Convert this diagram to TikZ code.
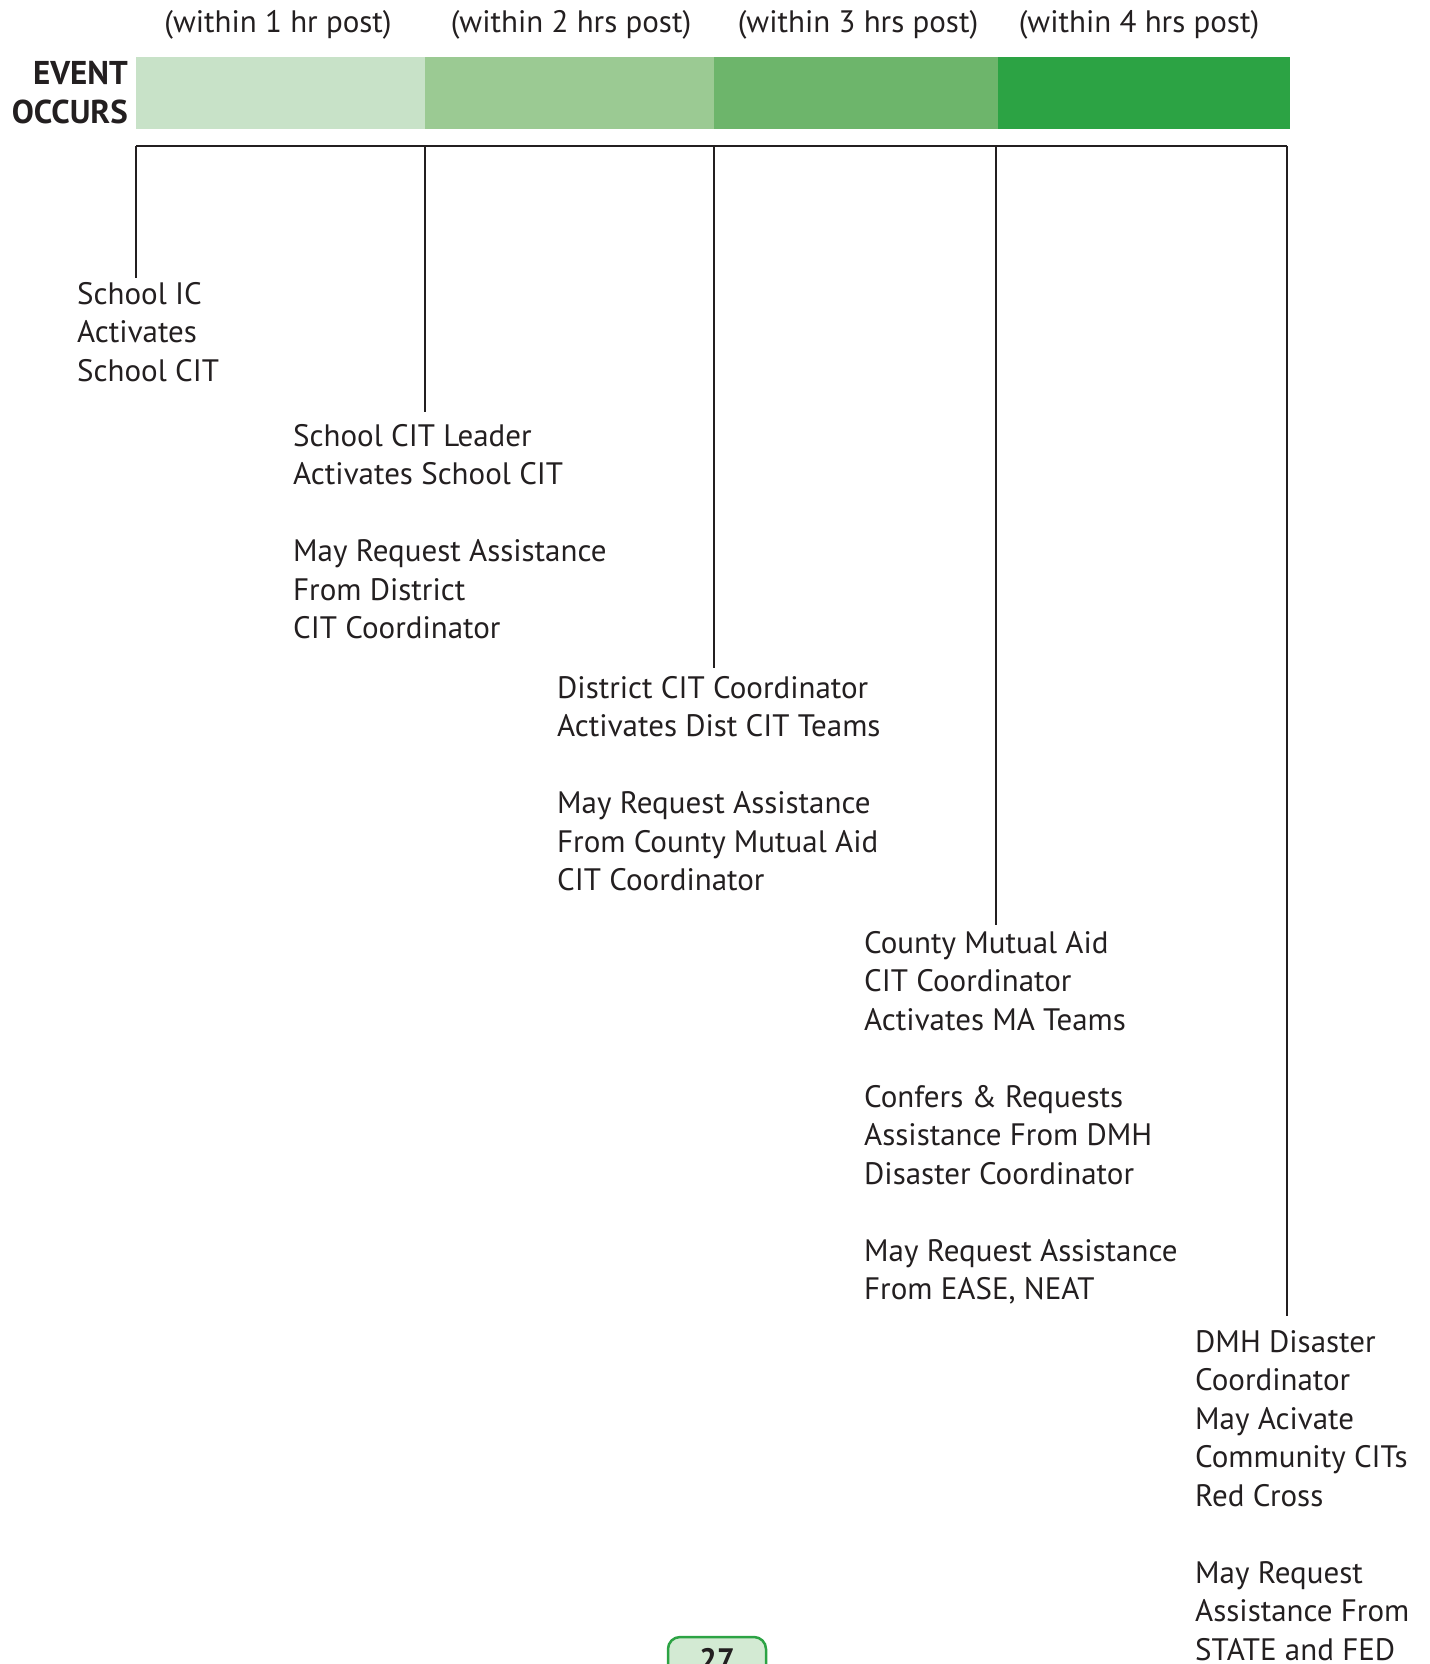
\documentclass[tikz,border=0pt]{standalone}
\usepackage{fontspec}
\setmainfont{PT Sans}
\definecolor{ink}{HTML}{231F20}
\definecolor{segA}{HTML}{C8E2C8}
\definecolor{segB}{HTML}{9BCA93}
\definecolor{segC}{HTML}{6DB56B}
\definecolor{segD}{HTML}{2CA344}
\definecolor{pgfill}{HTML}{D3EAD3}
\begin{document}
\begin{tikzpicture}[x=1pt,y=-1pt,
  every node/.style={inner sep=0pt, text=ink},
  lbl/.style={font=\fontsize{31}{38.5}\selectfont, align=left, anchor=north west},
  hdr/.style={font=\fontsize{31}{38}\selectfont},
  tick/.style={line width=2.8pt, draw=ink}]
\useasboundingbox (0,0) rectangle (1429,1664);
\clip (0,0) rectangle (1429,1664);
% colour bar
\fill[segA] (136,57) rectangle (425,129);
\fill[segB] (425,57) rectangle (714,129);
\fill[segC] (714,57) rectangle (998,129);
\fill[segD] (998,57) rectangle (1290,129);
% headers
\node[hdr] (h1) at (278,25) {(within 1 hr post)};
\node[hdr] (h2) at (571,25) {(within 2 hrs post)};
\node[hdr] (h3) at (858,25) {(within 3 hrs post)};
\node[hdr] (h4) at (1139,25) {(within 4 hrs post)};
\node[font=\fontsize{33}{39}\selectfont\bfseries, align=right, anchor=east] (ev) at (128,93) {EVENT\\OCCURS};
% timeline
\coordinate (c1) at (136,146);
\coordinate (c2) at (425,146);
\coordinate (c3) at (714,146);
\coordinate (c4) at (996,146);
\coordinate (c5) at (1287,146);
\draw[tick] (c1) -- (c5);
% text blocks
\node[lbl] (t1) at (77,282) {School IC\\Activates\\School CIT};
\node[lbl] (t2) at (293,424) {School CIT Leader\\Activates School CIT\\[38.5pt]May Request Assistance\\From District\\CIT Coordinator};
\node[lbl] (t3) at (557,676) {District CIT Coordinator\\Activates Dist CIT Teams\\[38.5pt]May Request Assistance\\From County Mutual Aid\\CIT Coordinator};
\node[lbl] (t4) at (864,931) {County Mutual Aid\\CIT Coordinator\\Activates MA Teams\\[38.5pt]Confers \& Requests\\Assistance From DMH\\Disaster Coordinator\\[38.5pt]May Request Assistance\\From EASE, NEAT};
\node[lbl] (t5) at (1195,1330) {DMH Disaster\\Coordinator\\May Acivate\\Community CITs\\Red Cross\\[38.5pt]May Request\\Assistance From\\STATE and FED};
% connectors
\draw[tick, shorten >=4pt] (c1) -- (t1.north -| c1);
\draw[tick, shorten >=12pt] (c2) -- (t2.north -| c2);
\draw[tick, shorten >=8pt] (c3) -- (t3.north -| c3);
\draw[tick, shorten >=6pt] (c4) -- (t4.north -| c4);
\draw[tick, shorten >=14pt] (c5) -- (t5.north -| c5);
% page number
\draw[draw=segD, fill=pgfill, line width=2.5pt, rounded corners=12pt] (668,1637) rectangle (766,1710);
\node[font=\fontsize{31}{38}\selectfont\bfseries, anchor=base] (pg) at (717,1670) {27};
\end{tikzpicture}
\end{document}
